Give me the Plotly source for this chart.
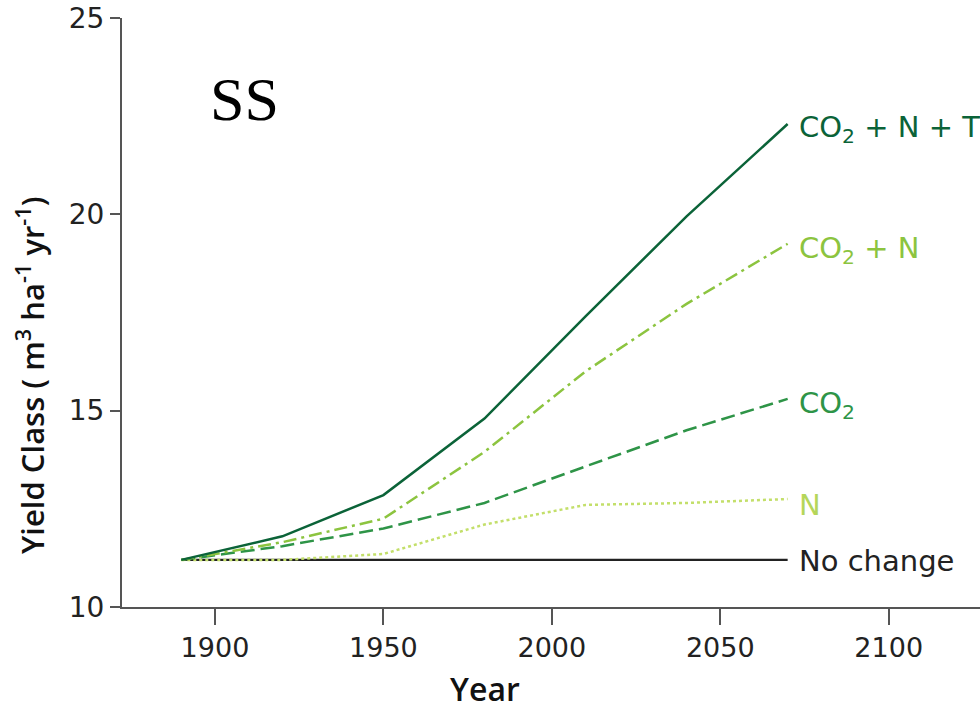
import plotly.graph_objects as go

years = [1890, 1920, 1950, 1980, 2010, 2040, 2070]
no_change = [11.2, 11.2, 11.2, 11.2, 11.2, 11.2, 11.2]
n_only = [11.2, 11.2, 11.35, 12.1, 12.6, 12.65, 12.75]
co2 = [11.2, 11.55, 12.0, 12.65, 13.58, 14.5, 15.3]
co2_n = [11.2, 11.65, 12.25, 13.95, 16.0, 17.72, 19.25]
co2_n_t = [11.2, 11.8, 12.85, 14.8, 17.4, 19.95, 22.3]

series = [
    ("No change", no_change, "#222222", "solid", "#222222", 2.2, -1),
    ("N", n_only, "#c3df6a", "3px,3px", "#b5d65a", 2.5, -6),
    ("CO<sub>2</sub>", co2, "#2e9447", "14px,6px", "#2e9447", 2.5, -6),
    ("CO<sub>2</sub> + N", co2_n, "#8cc43f", "13px,5px,3px,5px", "#8cc43f", 2.5, -6),
    ("CO<sub>2</sub> + N + T", co2_n_t, "#0b6338", "solid", "#0b6338", 2.5, -5),
]

FONT = "DejaVu Sans"
TFONT = "Open Sans"

L, R, T, B = 122, 980, 18, 607


def px(xp, yp):
    return (xp - L) / (R - L), (B - yp) / (B - T)


fig = go.Figure()
annotations = []
for name, vals, color, dash, tcolor, w, ys in series:
    fig.add_trace(go.Scatter(
        x=years, y=vals, mode="lines", name=name,
        line=dict(color=color, width=w, dash=dash),
        showlegend=False, hoverinfo="skip"))
    annotations.append(dict(
        x=years[-1], y=vals[-1], xref="x", yref="y", text=name,
        showarrow=False, xanchor="left", yanchor="middle", xshift=9, yshift=ys,
        font=dict(family=FONT, size=29, color=tcolor)))

sx, sy = px(208, 99)
annotations.append(dict(
    x=sx, y=sy, xref="paper", yref="paper", text="SS", showarrow=False,
    xanchor="left", yanchor="middle",
    font=dict(family="Liberation Serif", size=62, color="#000000")))

tx, ty = px(30, 375)
annotations.append(dict(
    x=tx, y=ty, xref="paper", yref="paper", textangle=-90,
    text="Yield Class ( m<sup>3</sup> ha<sup>-1</sup> yr<sup>-1</sup>)",
    showarrow=False, xanchor="center", yanchor="middle",
    font=dict(family=TFONT, size=31, color="#111111", weight=600)))

yx, yy = px(485, 711)
annotations.append(dict(
    x=yx, y=yy, xref="paper", yref="paper", text="Year",
    showarrow=False, xanchor="center", yanchor="bottom", borderpad=0,
    font=dict(family=TFONT, size=32, color="#111111", weight=600)))

fig.update_layout(
    width=980, height=712,
    margin=dict(l=L, r=980 - R, t=T, b=712 - B),
    paper_bgcolor="white", plot_bgcolor="white",
    annotations=annotations,
    xaxis=dict(
        range=[1872.4, 2127.1], tickvals=[1900, 1950, 2000, 2050, 2100],
        ticks="outside", ticklen=16, tickwidth=2, tickcolor="#555555",
        showline=True, linecolor="#555555", linewidth=2,
        showgrid=False, zeroline=False,
        tickfont=dict(family=FONT, size=27, color="#222222"),
    ),
    yaxis=dict(
        range=[10, 25], tickvals=[10, 15, 20, 25],
        ticks="outside", ticklen=10, tickwidth=2, tickcolor="#555555",
        showline=True, linecolor="#555555", linewidth=2,
        showgrid=False, zeroline=False,
        tickfont=dict(family=FONT, size=28, color="#222222"),
    ),
)

fig.write_html("out.html")
